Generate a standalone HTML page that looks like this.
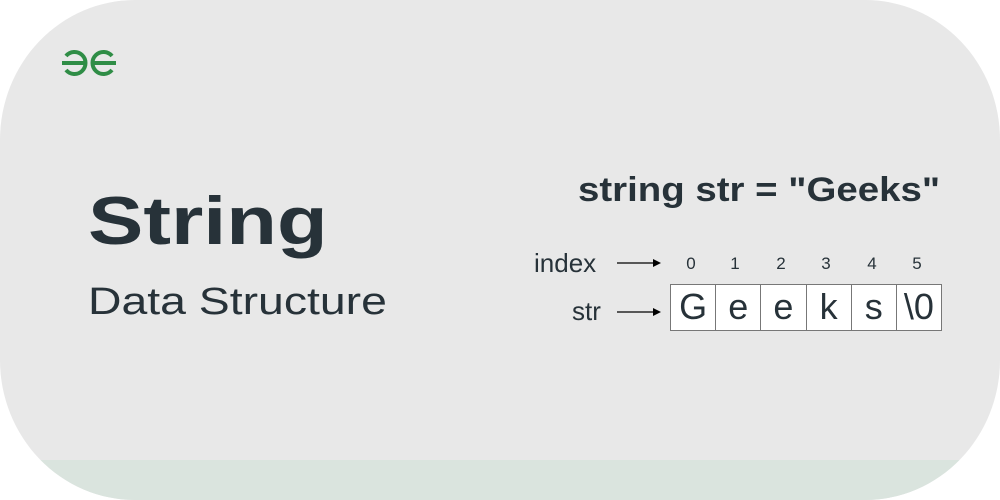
<!DOCTYPE html>
<html><head><style>
body{margin:0;width:1000px;height:500px;background:#fff;overflow:hidden;font-family:"Liberation Sans",sans-serif;color:#273239}
.card{position:absolute;left:0;top:0;width:1000px;height:500px;border-radius:135px/140px;background:#e8e8e8;overflow:hidden}
.band{position:absolute;left:0;top:460px;width:1000px;height:40px;background:#dae4de}
.t{position:absolute;white-space:nowrap;transform-origin:0 0}
.row{position:absolute;left:670px;top:284px;width:272px;height:47px;border:1px solid #777;box-sizing:border-box;background:#fff;display:flex}
.cell{flex:1;border-left:1px solid #777;font-size:36px;text-align:center;line-height:44px}
.cell:first-child{border-left:none}
.idx{position:absolute;top:254px;font-size:17px;width:20px;text-align:center}
</style></head><body>
<div class="card"><div class="band"></div></div>
<svg style="position:absolute;left:60px;top:48px" width="58" height="30" viewBox="0 0 58 30">
<g fill="none" stroke="#2f8d46" stroke-width="4">
<path d="M6 8 A11 11 0 1 1 6 22"/><path d="M2 15 H26"/>
<path d="M52 8 A11 11 0 1 0 52 22"/><path d="M32 15 H56"/>
</g></svg>
<div class="t" style="left:88px;top:182px;font-size:68px;font-weight:bold;transform:scaleX(1.22)">String</div>
<div class="t" style="left:88px;top:281px;font-size:38px;transform:scaleX(1.22)">Data Structure</div>
<div class="t" style="left:578px;top:171px;font-size:34px;font-weight:bold;transform:scaleX(1.13)">string str = "Geeks"</div>
<div class="t" style="left:534px;top:248px;font-size:26px">index</div>
<div class="t" style="left:572px;top:296px;font-size:26px">str</div>
<svg style="position:absolute;left:615px;top:255px" width="50" height="70">
<g stroke="#000" stroke-width="1.3"><line x1="2" y1="8" x2="40" y2="8"/><line x1="2" y1="57" x2="40" y2="57"/></g>
<path d="M38 4 L46 8 L38 12 Z M38 53 L46 57 L38 61 Z" fill="#000"/></svg>
<div class="idx" style="left:681px">0</div><div class="idx" style="left:725px">1</div><div class="idx" style="left:771px">2</div><div class="idx" style="left:816px">3</div><div class="idx" style="left:862px">4</div><div class="idx" style="left:907px">5</div>
<div class="row"><div class="cell">G</div><div class="cell">e</div><div class="cell">e</div><div class="cell">k</div><div class="cell">s</div><div class="cell">\0</div></div>
</body></html>
